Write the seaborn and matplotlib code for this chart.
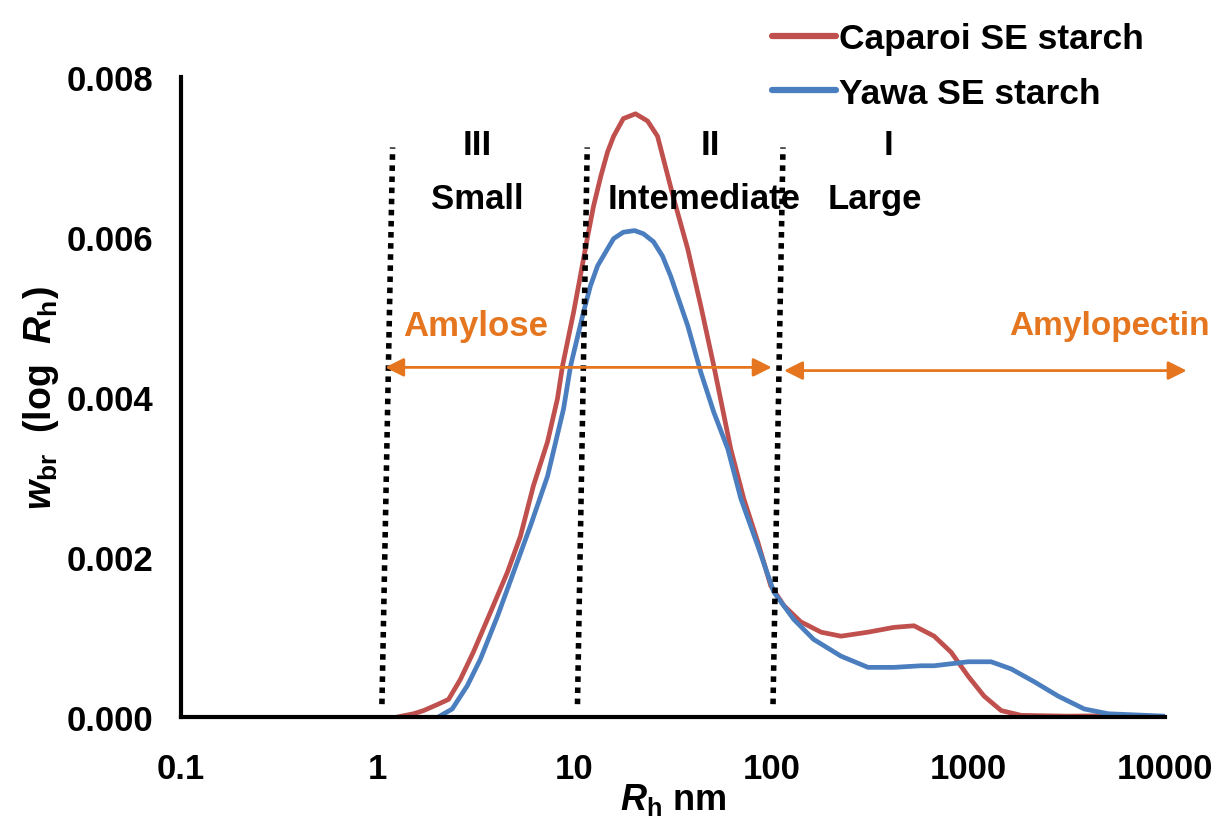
import matplotlib
matplotlib.use("Agg")
import matplotlib.pyplot as plt
import numpy as np
import pandas as pd
import seaborn as sns

# hydrodynamic radius (nm) and w_br(log Rh)
caparoi_rh = [1.26, 1.52, 1.71, 2.03, 2.29, 2.63, 3.06, 3.74, 4.56, 5.31, 6.18,
              7.29, 8.19, 8.69, 9.89, 10.7, 11.6, 12.5, 13.6, 14.7, 15.8, 17.7,
              20.4, 23.5, 26.4, 31.9, 37.6, 43.8, 51, 62.2, 72.4, 85.3, 99.3,
              116, 141, 179, 226, 310, 420, 531, 672, 819, 1000, 1206, 1472,
              1862, 3221, 7870]
caparoi_w = [0.0, 0.00004, 0.00008, 0.00016, 0.00022, 0.00047, 0.00081, 0.00131,
             0.00181, 0.00226, 0.00289, 0.00344, 0.00398, 0.00439, 0.00506,
             0.00551, 0.00598, 0.00639, 0.00676, 0.00706, 0.00726, 0.00748,
             0.00754, 0.00745, 0.00726, 0.00648, 0.00585, 0.00514, 0.00439,
             0.00335, 0.00273, 0.00219, 0.00164, 0.00139, 0.00119, 0.00106,
             0.00101, 0.00106, 0.00112, 0.00114, 0.00101, 0.00081, 0.00051,
             0.00026, 0.00008, 0.00002, 0.00001, 0.00002]

yawa_rh = [2.03, 2.39, 2.85, 3.32, 4.06, 4.9, 5.97, 7.29, 8.79, 9.55, 11.1, 12.05,
           13.1, 14.7, 15.8, 17.7, 20.2, 22.4, 25.2, 28, 30.8, 37.6, 43.8, 51,
           60.1, 70, 85.3, 103, 130, 164, 226, 310, 420, 576, 672, 1000, 1309,
           1656, 2168, 2871, 3890, 5150, 10000]
yawa_w = [0.0, 0.0001, 0.00039, 0.00072, 0.00126, 0.00181, 0.00239, 0.00301,
          0.00385, 0.00439, 0.00506, 0.00539, 0.00564, 0.00585, 0.00598, 0.00606,
          0.00608, 0.00604, 0.00594, 0.00576, 0.00551, 0.00489, 0.00431,
          0.00381, 0.00335, 0.00273, 0.00214, 0.00156, 0.00122, 0.00097,
          0.00076, 0.00062, 0.00062, 0.00064, 0.00064, 0.00069, 0.00069,
          0.0006, 0.00044, 0.00026, 0.0001, 0.00004, 0.00001]

series_names = ["Caparoi SE starch", "Yawa SE starch"]
series_colors = ["#C0504D", "#4A7EBF"]

x_ticks = [0.1, 1, 10, 100, 1000, 10000]
x_ticklabels = ["0.1", "1", "10", "100", "1000", "10000"]
y_ticks = [0, 0.002, 0.004, 0.006, 0.008]
y_ticklabels = ["0.000", "0.002", "0.004", "0.006", "0.008"]

# region boundaries (drawn slightly slanted as in the figure)
bound_bottom_x = [1.05, 10.35, 102]
bound_top_x = [1.19, 11.6, 114.6]
bound_y = [0.00016, 0.00712]

region_numerals = ["III", "II", "I"]
region_names = ["Small", "Intemediate", "Large"]
region_x = [3.2, 45.4, 336]
numeral_x = [3.2, 49.2, 392]

orange = "#E5761F"
fs = 25

df = pd.concat([
    pd.DataFrame({"Rh": caparoi_rh, "w": caparoi_w, "sample": series_names[0]}),
    pd.DataFrame({"Rh": yawa_rh, "w": yawa_w, "sample": series_names[1]}),
])

sns.set_style("white")
plt.rcParams["font.family"] = ["Liberation Sans", "DejaVu Sans"]
plt.rcParams["font.weight"] = "bold"
plt.rcParams["text.color"] = "black"
plt.rcParams["axes.labelcolor"] = "black"
plt.rcParams["xtick.color"] = "black"
plt.rcParams["ytick.color"] = "black"
plt.rcParams["mathtext.fontset"] = "custom"
plt.rcParams["mathtext.rm"] = "Liberation Sans:bold"
plt.rcParams["mathtext.it"] = "Liberation Sans:italic:bold"
plt.rcParams["mathtext.bf"] = "Liberation Sans:bold"

fig = plt.figure(figsize=(12.17, 8.28), dpi=100)
ax = fig.add_axes([0.1487, 0.1329, 0.8085, 0.7729])

sns.lineplot(data=df, x="Rh", y="w", hue="sample", palette=series_colors,
             hue_order=series_names, estimator=None, sort=False, lw=3.4, ax=ax)
ax.set_xscale("log")
ax.set_xlim(0.1, 10000)
ax.set_ylim(0, 0.008)

# dotted region boundaries
for xb, xt in zip(bound_bottom_x, bound_top_x):
    ax.plot([xb, xt], bound_y, color="black", lw=4, ls=(0, (1, 1)),
            solid_capstyle="butt")

for xn, xr, num, name in zip(numeral_x, region_x, region_numerals, region_names):
    ax.text(xn, 0.00716, num, ha="center", va="center", fontsize=fs,
            fontweight="bold")
    ax.text(xr, 0.00648, name, ha="center", va="center", fontsize=fs,
            fontweight="bold")

# amylose / amylopectin arrows
arrow_kw = dict(arrowstyle="<|-|>", color=orange, lw=2, mutation_scale=28,
                shrinkA=0, shrinkB=0)
ax.annotate("", xy=(1.09, 0.00437), xytext=(100.5, 0.00437),
            arrowprops=arrow_kw, annotation_clip=False)
ax.annotate("", xy=(116, 0.00433), xytext=(12900, 0.00433),
            arrowprops=arrow_kw, annotation_clip=False)
ax.text(3.13, 0.00489, "Amylose", color=orange, ha="center", va="center",
        fontsize=fs, fontweight="bold")
ax.text(17000, 0.00489, "Amylopectin", color=orange, ha="right", va="center",
        fontsize=24, fontweight="bold", clip_on=False)

ax.set_xticks(x_ticks)
ax.set_xticklabels(x_ticklabels)
ax.minorticks_off()
ax.set_yticks(y_ticks)
ax.set_yticklabels(y_ticklabels)
ax.tick_params(axis="both", direction="out", length=8, width=3, labelsize=fs,
               color="black", labelcolor="black")
ax.tick_params(axis="x", pad=17)
ax.tick_params(axis="y", pad=12)
for lab in ax.get_xticklabels() + ax.get_yticklabels():
    lab.set_fontweight("bold")

sns.despine(ax=ax)
for side in ["left", "bottom"]:
    ax.spines[side].set_linewidth(3)
    ax.spines[side].set_color("black")

ax.set_xlabel(r"$R_{\mathrm{h}}$ nm", fontsize=26, fontweight="bold", labelpad=-3)
ax.set_ylabel(r"$w_{\mathrm{br}}$  (log  $R_{\mathrm{h}}$)", fontsize=27,
              fontweight="bold", labelpad=4)

handles, labels = ax.get_legend_handles_labels()
ax.get_legend().remove()
leg = fig.legend(handles, labels, loc="upper left",
                 bbox_to_anchor=(0.617, 0.998), frameon=False, fontsize=25.5,
                 handlelength=1.8, handletextpad=0.1, labelspacing=0.62,
                 borderaxespad=0.2)
for line in leg.get_lines():
    line.set_linewidth(4.5)
for t in leg.get_texts():
    t.set_fontweight("bold")

fig.savefig("out.png", dpi=100)
